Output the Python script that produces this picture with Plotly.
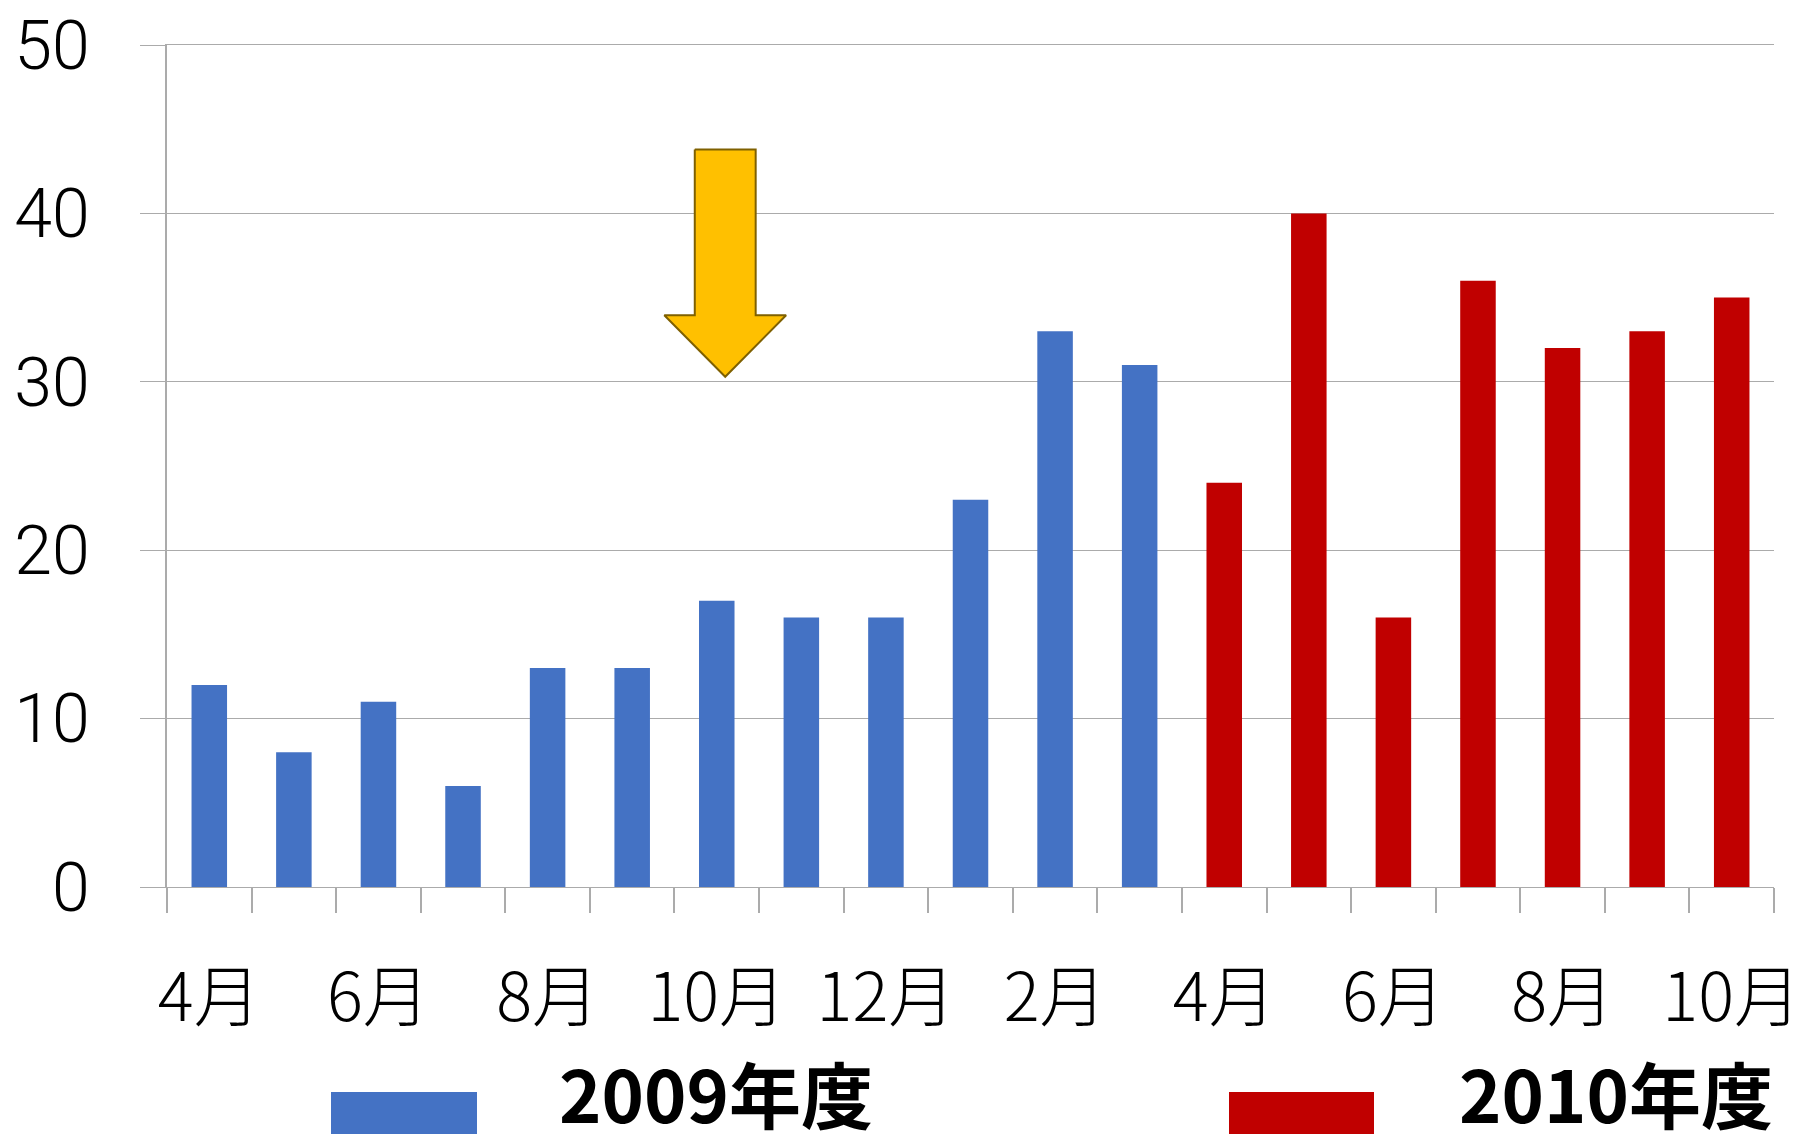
import plotly.graph_objects as go

# Monthly counts, fiscal 2009 (Apr 2009 - Mar 2010) and fiscal 2010 (Apr - Oct 2010)
months_2009 = ["4月", "5月", "6月", "7月", "8月", "9月", "10月", "11月", "12月", "1月", "2月", "3月"]
values_2009 = [12, 8, 11, 6, 13, 13, 17, 16, 16, 23, 33, 31]
months_2010 = ["4月", "5月", "6月", "7月", "8月", "9月", "10月"]
values_2010 = [24, 40, 16, 36, 32, 33, 35]

series_names = ["2009年度", "2010年度"]
colors = ["#4472C4", "#C00000"]
y_ticks = [0, 10, 20, 30, 40, 50]

# Arrow marking October 2009 (data coordinates)
arrow_cat = 6.1
arrow_top, arrow_neck, arrow_tip = 43.8, 33.95, 30.3
arrow_shaft_half, arrow_head_half = 0.36, 0.72

W, H = 1803, 1146
M = dict(l=167, r=29, t=45, b=259)
GRID = "#ABABAB"
FONT = "Noto Sans CJK JP"

all_months = months_2009 + months_2010
x_2009 = list(range(len(months_2009)))
x_2010 = list(range(len(months_2009), len(all_months)))

fig = go.Figure()
fig.add_trace(go.Bar(x=x_2009, y=values_2009, name=series_names[0],
                     marker=dict(color=colors[0], line=dict(width=0)), width=0.42))
fig.add_trace(go.Bar(x=x_2010, y=values_2010, name=series_names[1],
                     marker=dict(color=colors[1], line=dict(width=0)), width=0.42))

ax = [arrow_cat - arrow_shaft_half, arrow_cat + arrow_shaft_half, arrow_cat + arrow_shaft_half,
      arrow_cat + arrow_head_half, arrow_cat, arrow_cat - arrow_head_half,
      arrow_cat - arrow_shaft_half, arrow_cat - arrow_shaft_half]
ay = [arrow_top, arrow_top, arrow_neck, arrow_neck, arrow_tip, arrow_neck, arrow_neck, arrow_top]
fig.add_trace(go.Scatter(x=ax, y=ay, mode="lines", fill="toself", fillcolor="#FFC000",
                         line=dict(color="#7F6000", width=2), hoverinfo="skip", showlegend=False))

label_idx = list(range(0, len(all_months), 2))
fig.update_xaxes(
    range=[-0.5, len(all_months) - 0.5], automargin=False,
    tickmode="array", tickvals=label_idx, ticktext=[all_months[i] for i in label_idx],
    ticks="", showgrid=False, zeroline=False,
    showline=True, mirror=True, linecolor=GRID, linewidth=1.4,
    tickfont=dict(family=FONT, size=67, color="#000000", weight=300),
    ticklabelstandoff=52, ticklabeloverflow="allow",
    minor=dict(tickmode="linear", tick0=-0.5, dtick=1, ticks="outside", ticklen=25,
               tickcolor=GRID, tickwidth=1.5, showgrid=False),
)
fig.update_yaxes(
    range=[0, 50], automargin=False,
    tickmode="array", tickvals=y_ticks,
    showgrid=True, gridcolor=GRID, gridwidth=1.3, zeroline=False,
    showline=True, linecolor=GRID, linewidth=1.5,
    ticks="outside", ticklen=25, tickcolor=GRID, tickwidth=1.3,
    tickfont=dict(family="Roboto", size=68, color="#000000", weight=300),
    ticklabelstandoff=37, ticklabeloverflow="allow",
)

# Legend drawn below the axis as wide swatches plus bold labels
pw = W - M["l"] - M["r"]
ph = H - M["t"] - M["b"]
def px_x(v):
    return (v - M["l"]) / pw
def px_y(v):
    return (H - M["b"] - v) / ph

swatches = [(331, 477), (1229, 1374)]
text_left = [557, 1457]
for name, color, (x0, x1), tx in zip(series_names, colors, swatches, text_left):
    fig.add_shape(type="rect", xref="paper", yref="paper",
                  x0=px_x(x0), x1=px_x(x1), y0=px_y(1134), y1=px_y(1092),
                  fillcolor=color, line=dict(width=0))
    fig.add_annotation(xref="paper", yref="paper", x=px_x(tx), y=px_y(1146),
                       xanchor="left", yanchor="bottom", showarrow=False,
                       text="<b>" + name + "</b>",
                       font=dict(family=FONT, size=72, color="#000000"))

fig.update_layout(
    width=W, height=H, margin=dict(M, autoexpand=False),
    paper_bgcolor="white", plot_bgcolor="white",
    barmode="overlay", showlegend=False,
)

fig.write_html("out.html")
